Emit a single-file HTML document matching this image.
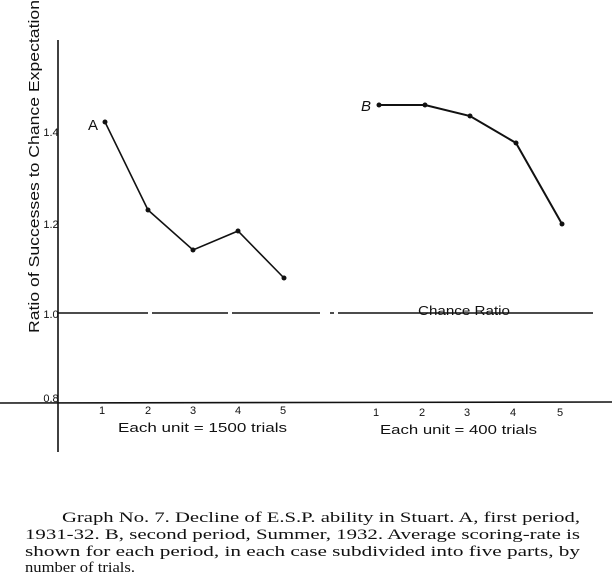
<!DOCTYPE html>
<html><head><style>body{margin:0;background:#fff}svg{display:block}</style></head><body>
<svg width="612" height="574" viewBox="0 0 612 574" xmlns="http://www.w3.org/2000/svg">
<g stroke="#111" fill="none" stroke-width="1.6">
<line x1="58" y1="40" x2="58" y2="452"/>
<line x1="0" y1="403" x2="612" y2="402"/>
<path d="M58 313 H148 M152 313 H228 M232 313 H320 M330 313 H334 M338 313 H593"/>
<polyline points="105,122 148,210 193,250 238,231 284,278"/>
<polyline points="379,105 425,105 470,116 516,143 562,224" stroke-width="2"/>
</g>
<g fill="#111">
<circle cx="105" cy="122" r="2.5"/><circle cx="148" cy="210" r="2.5"/><circle cx="193" cy="250" r="2.5"/><circle cx="238" cy="231" r="2.5"/><circle cx="284" cy="278" r="2.5"/>
<circle cx="379" cy="105" r="2.5"/><circle cx="425" cy="105" r="2.5"/><circle cx="470" cy="116" r="2.5"/><circle cx="516" cy="143" r="2.5"/><circle cx="562" cy="224" r="2.5"/>
</g>
<g font-family="Liberation Sans, sans-serif" fill="#111">
<text x="88" y="130" font-size="15">A</text>
<text x="361" y="111" font-size="15" font-style="italic">B</text>
<g font-size="11" text-anchor="middle">
<text x="51" y="136">1.4</text><text x="51" y="228">1.2</text><text x="51" y="318">1.0</text><text x="51" y="402">0.8</text>
<text x="102" y="414">1</text><text x="148" y="414">2</text><text x="193" y="414">3</text><text x="238" y="414">4</text><text x="283" y="414">5</text>
<text x="376" y="416">1</text><text x="422" y="416">2</text><text x="467" y="416">3</text><text x="513" y="416">4</text><text x="560" y="416">5</text>
</g>
<text x="118" y="432" font-size="13" textLength="169" lengthAdjust="spacingAndGlyphs">Each unit = 1500 trials</text>
<text x="380" y="434" font-size="13" textLength="157" lengthAdjust="spacingAndGlyphs">Each unit = 400 trials</text>
<text x="418" y="315" font-size="13" textLength="92" lengthAdjust="spacingAndGlyphs">Chance Ratio</text>
<text transform="translate(39,333) rotate(-90)" font-size="15" textLength="333" lengthAdjust="spacingAndGlyphs">Ratio of Successes to Chance Expectation</text>
</g>
<g font-family="Liberation Serif, serif" font-size="15" fill="#111" style="white-space:pre">
<text x="62" y="522" textLength="518" lengthAdjust="spacingAndGlyphs">Graph No. 7.   Decline of E.S.P. ability in Stuart.   A, first period,</text>
<text x="25" y="539" textLength="555" lengthAdjust="spacingAndGlyphs">1931-32.   B, second period, Summer, 1932.   Average scoring-rate is</text>
<text x="25" y="556" textLength="555" lengthAdjust="spacingAndGlyphs">shown for each period, in each case subdivided into five parts, by</text>
<text x="25" y="572" textLength="110" lengthAdjust="spacingAndGlyphs">number of trials.</text>
</g>
</svg>
</body></html>
